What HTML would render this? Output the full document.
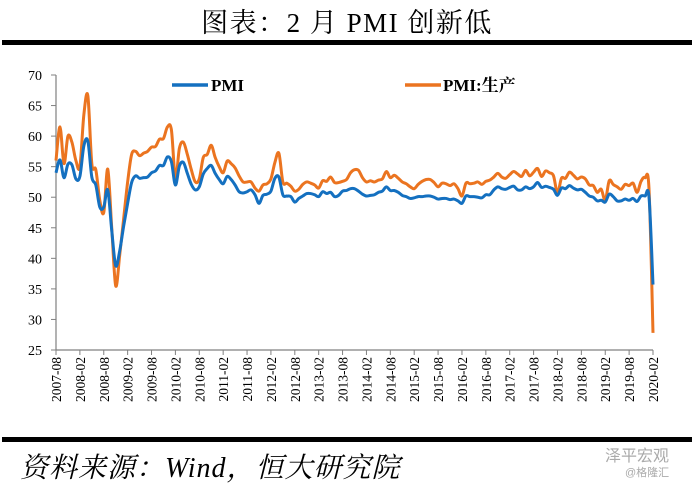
<!DOCTYPE html>
<html><head><meta charset="utf-8"><style>
html,body{margin:0;padding:0;background:#fff;}
svg{display:block;}
</style></head><body>
<svg id="chart" width="694" height="483" viewBox="0 0 694 483" xmlns="http://www.w3.org/2000/svg">
<text x="347" y="32" text-anchor="middle" font-family="'Liberation Serif','Noto Serif CJK SC',serif" font-size="27" letter-spacing="1.5" fill="#000">图表：2 月 PMI 创新低</text>
<rect x="2" y="40" width="690" height="5" fill="#000"/>
<g id="axes"></g>
<g id="series"></g>
<g>
<line x1="172" y1="85" x2="208" y2="85" stroke="#1470C0" stroke-width="3.5"/>
<text x="211" y="91" font-family="'Liberation Serif',serif" font-weight="bold" font-size="17">PMI</text>
<line x1="405" y1="85" x2="441" y2="85" stroke="#EB7420" stroke-width="3.5"/>
<text x="443" y="91" font-family="'Liberation Serif','Noto Serif CJK SC',serif" font-weight="bold" font-size="17">PMI:生产</text>
</g>
<rect x="2" y="437" width="690" height="5" fill="#000"/>
<text x="20" y="477" font-family="'Liberation Serif','Noto Serif CJK SC',serif" font-style="italic" font-size="28" letter-spacing="1" fill="#000">资料来源：Wind，恒大研究院</text>
<text x="605" y="461" font-family="'Liberation Sans','Noto Sans CJK SC',sans-serif" font-size="16" fill="#aaa">泽平宏观</text>
<text x="625" y="476" font-family="'Liberation Sans','Noto Sans CJK SC',sans-serif" font-size="11" fill="#aaa">@格隆汇</text>
</svg>
<script>
const pmi = [54.0,56.1,53.2,55.4,55.3,
53.0,53.4,58.4,59.2,53.3,52.0,48.4,48.4,51.2,44.6,38.8,41.2,
45.3,49.0,52.4,53.5,53.1,53.2,53.3,54.0,54.3,55.2,55.2,56.6,
55.8,52.0,55.1,55.7,53.9,52.1,51.2,51.7,53.8,54.7,55.2,53.9,
52.9,52.2,53.4,52.9,52.0,50.9,50.7,50.9,51.2,50.4,49.0,50.3,
50.5,51.0,53.1,53.3,50.4,50.2,50.1,49.2,49.8,50.2,50.6,50.6,
50.4,50.1,50.9,50.6,50.8,50.1,50.3,51.0,51.1,51.4,51.4,51.0,
50.5,50.2,50.3,50.4,50.8,51.0,51.7,51.1,51.1,50.8,50.3,50.1,
49.8,49.9,50.1,50.1,50.2,50.2,50.0,49.7,49.8,49.8,49.6,49.7,
49.4,49.0,50.2,50.1,50.1,50.0,49.9,50.4,50.4,51.2,51.7,51.4,
51.3,51.6,51.8,51.2,51.2,51.7,51.4,51.7,52.4,51.6,51.8,51.6,
51.3,50.3,51.5,51.4,51.9,51.5,51.2,51.3,50.8,50.2,50.0,49.4,
49.5,49.2,50.5,50.1,49.4,49.4,49.7,49.5,49.8,49.3,50.2,50.2,
50.0,35.7];
const production = [56.0,61.5,55.5,60.0,59.0,
56.0,55.0,63.5,66.6,55.5,54.5,49.5,47.5,54.6,45.0,35.5,40.5,
46.5,52.5,57.0,57.5,56.8,57.2,57.5,58.2,58.3,59.5,59.6,61.5,
61.0,53.0,58.0,59.0,57.0,54.5,52.5,53.0,56.5,57.0,58.5,56.5,
55.0,54.0,55.9,55.5,54.8,53.5,52.5,52.5,52.5,51.5,51.0,52.0,
52.2,53.0,55.7,57.2,52.5,52.3,51.8,51.0,51.3,52.1,52.5,52.3,
52.0,51.5,52.7,52.6,53.3,52.4,52.4,52.6,52.9,54.0,54.5,54.4,
53.2,52.5,52.7,52.5,52.8,53.0,54.2,53.2,53.6,53.1,52.5,52.2,
51.7,51.4,52.1,52.6,52.9,52.9,52.4,51.7,52.3,52.2,51.9,52.2,
51.4,50.2,52.3,52.2,52.3,52.5,52.1,52.6,52.8,53.3,53.9,53.3,
53.1,53.7,54.2,53.8,53.4,54.4,53.5,54.1,54.7,53.4,54.3,54.0,
53.5,50.7,53.1,53.1,54.1,53.6,53.0,53.3,53.0,52.0,51.9,50.8,
51.3,49.5,52.7,52.1,51.7,51.3,52.1,51.9,52.3,50.8,52.6,53.2,
51.3,27.8];
const yTicks = [25,30,35,40,45,50,55,60,65,70];
const startYear = 2007, startMonth = 8;

const NS = "http://www.w3.org/2000/svg";
const X0 = 56, X1 = 653, Y0 = 350, Y1 = 75, YMIN = 25, YMAX = 70;
const n = pmi.length;
const xs = i => X0 + (X1 - X0) * i / (n - 1);
const ys = v => Y0 - (v - YMIN) / (YMAX - YMIN) * (Y0 - Y1);
function mk(tag, attrs, parent) { const e = document.createElementNS(NS, tag); for (const k in attrs) e.setAttribute(k, attrs[k]); parent.appendChild(e); return e; }
const axes = document.getElementById('axes');
const yAxis = mk('line', {x1: X0, y1: Y1, x2: X0, y2: Y0, stroke: '#808080', 'stroke-width': 1.2}, axes);


const xAxis = mk('line', {x1: X0, y1: Y0, x2: X1, y2: Y0, stroke: '#808080', 'stroke-width': 1.2}, axes);


yTicks.forEach(v => {
  const y = ys(v);
  const t = mk('line', {x1: X0 - 5, y1: y, x2: X0, y2: y, stroke: '#808080', 'stroke-width': 1}, axes);
  
  
  const l = mk('text', {x: X0 - 14, y: y + 5, 'text-anchor': 'end', 'font-family': "'Liberation Serif',serif", 'font-size': 14}, axes);
  l.textContent = v;
  
  
});
for (let i = 0; i < n; i += 6) {
  const x = xs(i);
  const t = mk('line', {x1: x, y1: Y0, x2: x, y2: Y0 + 5, stroke: '#808080', 'stroke-width': 1}, axes);
  
  
  const m = startMonth - 1 + i, yr = startYear + Math.floor(m / 12), mo = m % 12 + 1;
  const l = mk('text', {x: 0, y: 0, transform: `translate(${x + 5},357) rotate(-90)`, 'text-anchor': 'end', 'font-family': "'Liberation Serif',serif", 'font-size': 13.5}, axes);
  l.textContent = yr + '-' + (mo < 10 ? '0' : '') + mo;
  
  
}
function smooth(arr) {
  const p = arr.map((v, i) => [xs(i), ys(v)]);
  let d = `M${p[0][0]},${p[0][1]}`;
  for (let i = 0; i < p.length - 1; i++) {
    const a = p[Math.max(0, i - 1)], b = p[i], c = p[i + 1], e = p[Math.min(p.length - 1, i + 2)];
    const c1 = [b[0] + (c[0] - a[0]) / 6, b[1] + (c[1] - a[1]) / 6];
    const c2 = [c[0] - (e[0] - b[0]) / 6, c[1] - (e[1] - b[1]) / 6];
    d += ` C${c1[0]},${c1[1]} ${c2[0]},${c2[1]} ${c[0]},${c[1]}`;
  }
  return d;
}
const g = document.getElementById('series');
const prodLine = mk('path', {d: smooth(production), fill: 'none', stroke: '#EB7420', 'stroke-width': 3, 'stroke-linejoin': 'round'}, g);


const pmiLine = mk('path', {d: smooth(pmi), fill: 'none', stroke: '#1470C0', 'stroke-width': 3, 'stroke-linejoin': 'round'}, g);


</script>
</body></html>
